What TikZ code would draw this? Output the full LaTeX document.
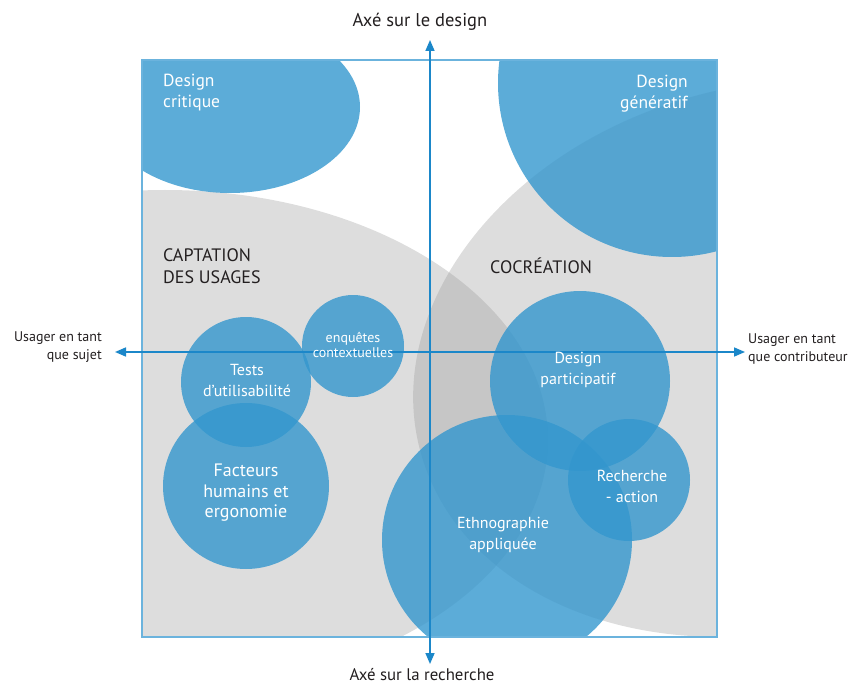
\documentclass[tikz,border=0pt]{standalone}
\usepackage{fontspec}
\setmainfont{PT Sans}
\usetikzlibrary{arrows.meta}
\definecolor{zoneblue}{RGB}{51,151,206}
\definecolor{axisblue}{RGB}{27,135,201}
\definecolor{frameblue}{RGB}{107,179,221}
\definecolor{labeldark}{RGB}{35,31,32}
\begin{document}
\begin{tikzpicture}[x=1pt,y=-1pt,
    zone/.style={fill=zoneblue,fill opacity=0.8},
    field/.style={fill=black!41,fill opacity=0.32},
    axis/.style={axisblue,line width=1.6pt,{Triangle[length=11pt,width=9pt]}-{Triangle[length=11pt,width=9pt]}},
    inlabel/.style={white,align=center,inner sep=0pt,font=\fontsize{16}{21}\selectfont},
    outlabel/.style={labeldark,inner sep=0pt,font=\fontsize{18}{22}\selectfont}]
  \useasboundingbox (0,0) rectangle (850,684);
  \coordinate (nw) at (142,60);
  \coordinate (se) at (717,637);
  \begin{scope}
    \clip (nw) rectangle (se);
    % grey fields
    \fill[field] (165,440) ellipse[x radius=383pt,y radius=250pt];
    \fill[field,shift={(768,358)},rotate=15] (0,0) ellipse[x radius=360pt,y radius=272pt];
    % bubbles
    \fill[zone] (230,107) ellipse[x radius=130pt,y radius=86pt];
    \fill[zone] (672,83) circle[radius=174pt];
    \fill[zone] (353,346) circle[radius=51pt];
    \fill[zone] (246,382) circle[radius=65pt];
    \fill[zone] (246,486) circle[radius=83pt];
    \fill[zone] (580,381) circle[radius=90pt];
    \fill[zone] (629,480) circle[radius=61pt];
    \fill[zone] (507,540) circle[radius=125pt];
  \end{scope}
  \draw[frameblue,line width=1.2pt] (nw) rectangle (se);

  % axes
  \coordinate (west) at (115,352);
  \coordinate (east) at (745,352);
  \coordinate (north) at (430,40);
  \coordinate (south) at (430,664);
  \draw[axis] (west) -- (east);
  \draw[axis] (south) -- (north);

  \node[outlabel,anchor=base,font=\fontsize{18.5}{22}\selectfont] (design) at (420,27) {Axé sur le design};
  \node[outlabel,anchor=base,font=\fontsize{16.8}{20}\selectfont] (research) at (422,680) {Axé sur la recherche};
  \node[outlabel,anchor=east,align=right,font=\fontsize{14}{18}\selectfont] (subject) at (102,347) {Usager en tant\\que sujet};
  \node[outlabel,anchor=west,align=left,font=\fontsize{14}{18}\selectfont] (contrib) at (748,349) {Usager en tant\\que contributeur};
  \node[outlabel,anchor=west,align=left] (captation) at (163,266) {CAPTATION\\DES USAGES};
  \node[outlabel,anchor=west] (cocreation) at (490,266) {COCRÉATION};

  \node[inlabel,anchor=west,align=left,font=\fontsize{17.5}{21}\selectfont] (critique) at (163,93) {Design\\critique};
  \node[inlabel,anchor=east,align=right,font=\fontsize{17.5}{21}\selectfont] (generatif) at (688,94) {Design\\génératif};
  \node[inlabel,font=\fontsize{14}{15}\selectfont] (enquetes) at (353,345) {enquêtes\\contextuelles};
  \node[inlabel] (tests) at (247,380) {Tests\\d’utilisabilité};
  \node[inlabel,font=\fontsize{18}{20.5}\selectfont] (facteurs) at (246,493) {Facteurs\\humains et\\ergonomie};
  \node[inlabel] (participatif) at (578,370) {Design\\participatif};
  \node[inlabel] (action) at (632,486) {Recherche\\- action};
  \node[inlabel] (ethno) at (503,535) {Ethnographie\\appliquée};
\end{tikzpicture}
\end{document}
